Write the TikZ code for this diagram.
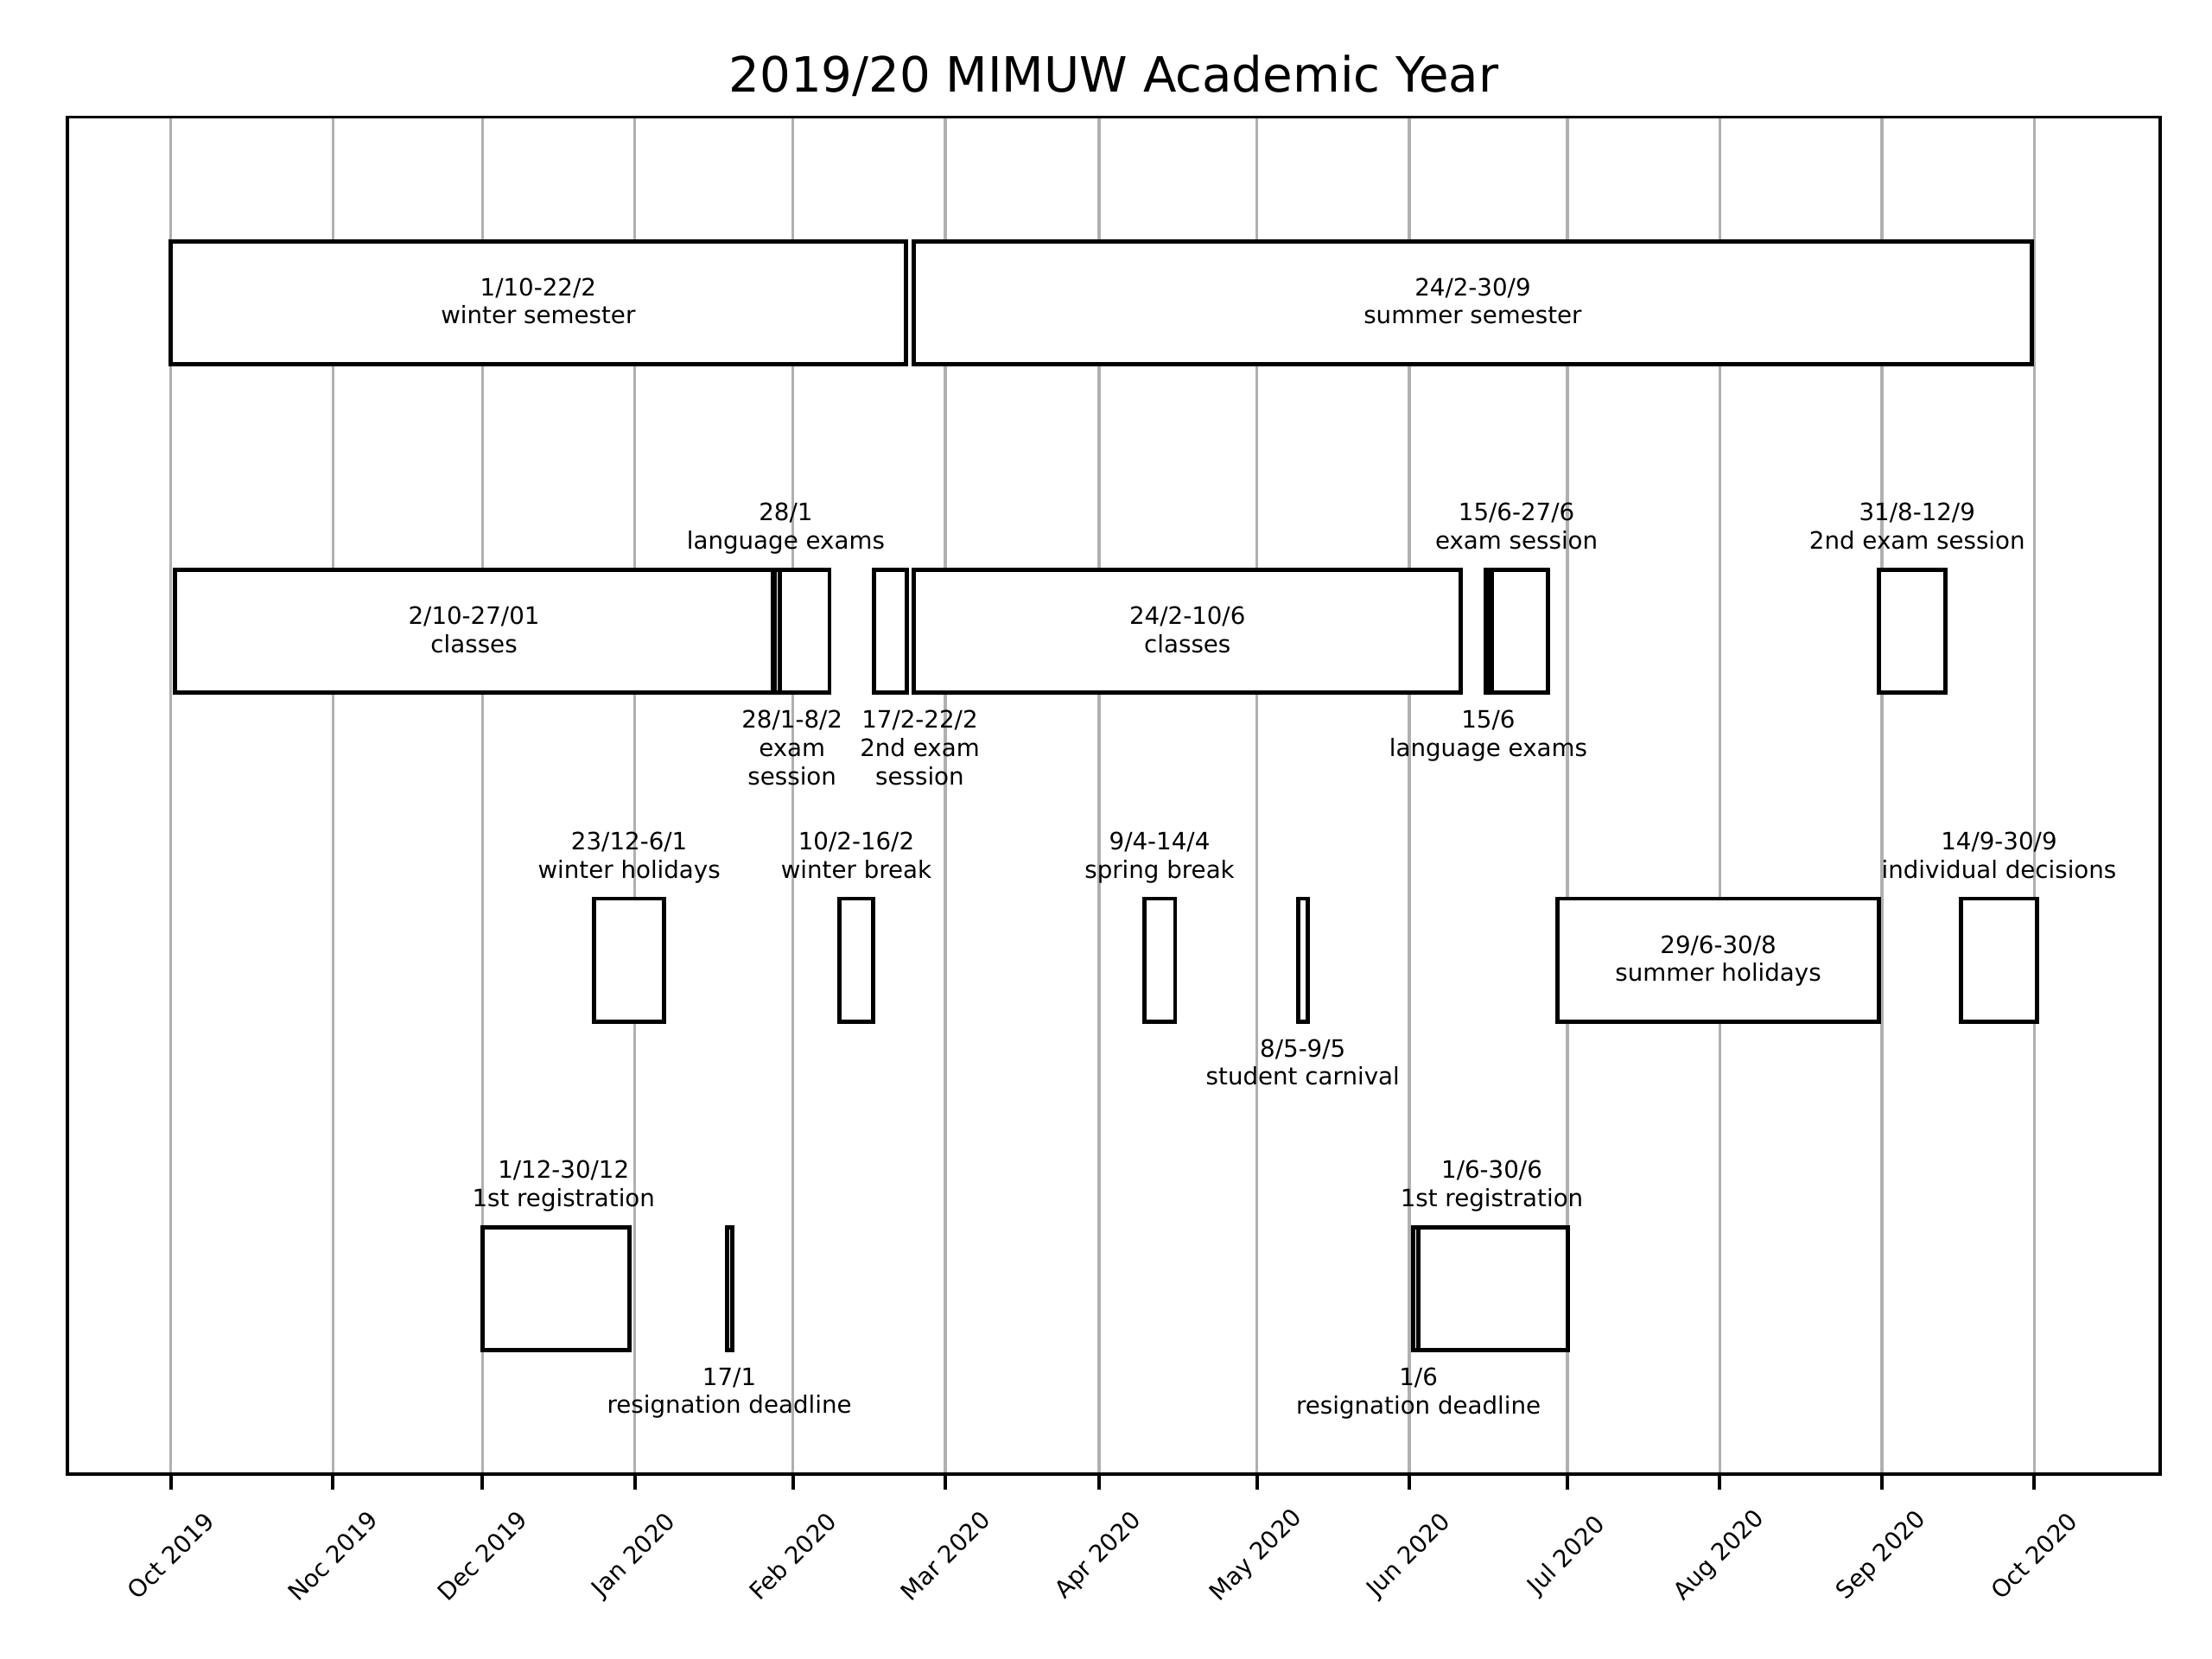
\documentclass[tikz,border=0pt]{standalone}
\usepackage{fontspec}
\setmainfont{DejaVu Sans}
\usetikzlibrary{fit}

\newcommand{\lblfont}{\fontsize{5}{5.9}\selectfont}

\begin{document}
\begin{tikzpicture}[
  x=0.010367cm, y=-0.010367cm,
  span/.style={rectangle,draw,fill=white,line width=0.9pt,inner sep=0pt},
  lbl/.style={inner sep=0pt,align=center,font=\lblfont,text depth=0pt},
  lblin/.style={lbl,anchor=south,yshift=-0.164cm},
  lblup/.style={lbl,anchor=south,yshift=0.145cm},
  lbldown/.style={lbl,anchor=north,yshift=-0.124cm},
  monthline/.style={draw=black!31,line width=0.6pt},
  tickmark/.style={line width=0.72pt},
  ticklbl/.style={font=\fontsize{5}{6}\selectfont,rotate=45,inner sep=0pt}
]
\useasboundingbox (0,0) rectangle (1568,1176);

\node[font=\fontsize{10.15}{12}\selectfont] (title) at (789.5,53.5) {2019/20 MIMUW Academic Year};

% month grid, ticks and tick labels
\foreach \px/\mon [count=\i] in {121/Oct 2019,236/Noc 2019,342/Dec 2019,450/Jan 2020,562/Feb 2020,670/Mar 2020,779/Apr 2020,891/May 2020,999/Jun 2020,1111/Jul 2020,1219/Aug 2020,1334/Sep 2020,1442/Oct 2020}{
  \draw[monthline] (\px,83) -- (\px,1045);
  \draw[tickmark] (\px,1045) -- (\px,1056);
  \node[ticklbl] (mon\i) at (\px,1103) {\mon};
}
\node[draw,line width=0.72pt,inner sep=0pt,fit={(48,83) (1531,1045)}] (axes) {};

% row 1: semesters
\node[span,fit={(121,171) (642,258)}] (wsem) {};
\node[span,fit={(648,171) (1440,258)}] (ssem) {};
\node[lblin] (wsemlbl) at (wsem.center) {1/10-22/2\\winter semester};
\node[lblin] (ssemlbl) at (ssem.center) {24/2-30/9\\summer semester};

% row 2: classes and exams
\node[span,fit={(124,404) (548,491)}] (wcls) {};
\node[span,fit={(551,404) (588,491)}] (wexam) {};
\node[span,fit={(551,404) (551,491)}] (wlang) {};
\node[span,fit={(619.6,404) (642.7,491)}] (wexam2) {};
\node[span,fit={(648,404) (1035.5,491)}] (scls) {};
\node[span,fit={(1057.4,404) (1097.4,491)}] (sexam) {};
\node[span,fit={(1054.8,404) (1054.8,491)}] (slang) {};
\node[span,fit={(1332,404) (1379,491)}] (sexam2) {};

\node[lblin] (wclslbl) at (wcls.center) {2/10-27/01\\classes};
\node[lblin] (sclslbl) at (scls.center) {24/2-10/6\\classes};
\node[lblup] (wlanglbl) at (557,404) {28/1\\language exams};
\node[lbldown] (wexamlbl) at (561.5,491) {28/1-8/2\\exam\\session};
\node[lbldown] (wexam2lbl) at (652,491) {17/2-22/2\\2nd exam\\session};
\node[lblup] (sexamlbl) at (1075,404) {15/6-27/6\\exam session};
\node[lbldown] (slanglbl) at (1055,491) {15/6\\language exams};
\node[lblup] (sexam2lbl) at (1359,404) {31/8-12/9\\2nd exam session};

% row 3: breaks and holidays
\node[span,fit={(421,637) (471,724)}] (whol) {};
\node[span,fit={(595,637) (619,724)}] (wbrk) {};
\node[span,fit={(811,637) (833,724)}] (sbrk) {};
\node[span,fit={(920,637) (927,724)}] (carn) {};
\node[span,fit={(1104,637) (1332,724)}] (shol) {};
\node[span,fit={(1390,637) (1444,724)}] (indiv) {};

\node[lblin] (shollbl) at (shol.center) {29/6-30/8\\summer holidays};
\node[lblup] (whollbl) at (446,637) {23/12-6/1\\winter holidays};
\node[lblup] (wbrklbl) at (607,637) {10/2-16/2\\winter break};
\node[lblup] (sbrklbl) at (822,637) {9/4-14/4\\spring break};
\node[lbldown] (carnlbl) at (923.5,724) {8/5-9/5\\student carnival};
\node[lblup] (indivlbl) at (1417,637) {14/9-30/9\\individual decisions};

% row 4: registration
\node[span,fit={(342,870) (446,957)}] (wreg) {};
\node[span,fit={(515.2,870) (518.8,957)}] (wres) {};
\node[span,fit={(1003.6,870) (1111.5,957)}] (sreg) {};
\node[span,fit={(1003.6,870) (1003.6,957)}] (sres) {};

\node[lblup] (wreglbl) at (399.5,870) {1/12-30/12\\1st registration};
\node[lbldown] (wreslbl) at (517,957) {17/1\\resignation deadline};
\node[lblup] (sreglbl) at (1057.5,870) {1/6-30/6\\1st registration};
\node[lbldown] (sreslbl) at (1005.5,957) {1/6\\resignation deadline};
\end{tikzpicture}
\end{document}
